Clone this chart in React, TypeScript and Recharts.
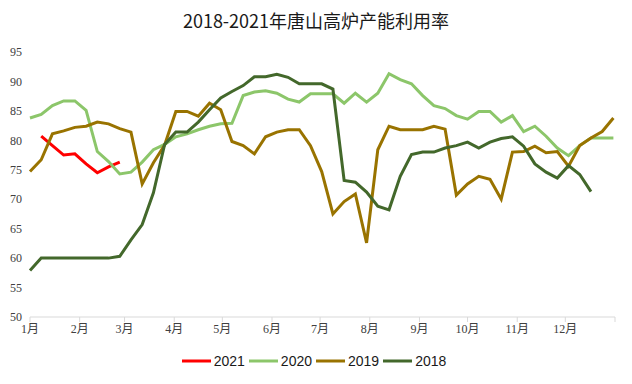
import React from 'react';
import { LineChart, Line, XAxis, YAxis, Legend } from 'recharts';

const weekDays = [
  0, 7, 14, 21, 28, 35, 42, 49, 56, 63, 70, 77, 84, 91, 98, 105, 112, 119, 126, 133,
  140, 147, 154, 161, 168, 175, 182, 189, 196, 203, 210, 217, 224, 231, 238, 245, 252, 259, 266, 273,
  280, 287, 294, 301, 308, 315, 322, 329, 336, 343, 350, 357, 364,
];

const monthStarts = [0, 31, 59, 90, 120, 151, 181, 212, 243, 273, 304, 334, 365];
const monthLabels = ['1月', '2月', '3月', '4月', '5月', '6月', '7月', '8月', '9月', '10月', '11月', '12月', ''];
const yTicks = [50, 55, 60, 65, 70, 75, 80, 85, 90, 95];

const s2021 = [
  null, 80.7, 79.1, 77.5, 77.7, 76.0, 74.5, 75.5, 76.3, null,
  null, null, null, null, null, null, null, null, null, null,
  null, null, null, null, null, null, null, null, null, null,
  null, null, null, null, null, null, null, null, null, null,
  null, null, null, null, null, null, null, null, null, null,
  null, null, null,
];

const s2020 = [
  83.8, 84.4, 85.9, 86.7, 86.7, 85.1, 78.1, 76.4, 74.3, 74.6,
  76.3, 78.4, 79.3, 80.6, 81.1, 81.8, 82.4, 82.8, 82.9, 87.6,
  88.2, 88.4, 88.0, 87.0, 86.5, 87.9, 87.9, 87.9, 86.3, 88.0,
  86.5, 88.0, 91.3, 90.3, 89.6, 87.6, 85.9, 85.4, 84.2, 83.6,
  84.9, 84.9, 83.1, 84.2, 81.5, 82.4, 80.7, 78.7, 77.4, 79.1,
  80.4, 80.4, 80.4,
];

const s2019 = [
  74.7, 76.7, 81.1, 81.6, 82.2, 82.4, 83.1, 82.8, 82.0, 81.4,
  72.6, 76.2, 79.2, 84.9, 84.9, 84.1, 86.3, 85.2, 79.8, 79.1,
  77.7, 80.6, 81.4, 81.8, 81.8, 79.1, 74.7, 67.5, 69.6, 70.9,
  62.6, 78.4, 82.4, 81.8, 81.8, 81.8, 82.4, 81.9, 70.7, 72.6,
  73.9, 73.4, 70.0, 78.0, 78.1, 79.0, 77.9, 78.1, 75.6, 79.1,
  80.4, 81.5, 83.8,
];

const s2018 = [
  57.9, 60.0, 60.0, 60.0, 60.0, 60.0, 60.0, 60.0, 60.3, 63.1,
  65.7, 71.1, 79.3, 81.4, 81.4, 83.1, 85.2, 87.2, 88.3, 89.3,
  90.8, 90.8, 91.2, 90.7, 89.6, 89.6, 89.6, 88.7, 73.2, 72.9,
  71.2, 68.8, 68.2, 73.9, 77.6, 78.0, 78.0, 78.7, 79.1, 79.7,
  78.7, 79.7, 80.3, 80.6, 79.0, 76.0, 74.6, 73.6, 75.7, 74.2,
  71.3, null, null,
];

const seriesDefs = [
  { key: 'y2021', name: '2021', color: '#FF0000' },
  { key: 'y2020', name: '2020', color: '#8CC66A' },
  { key: 'y2019', name: '2019', color: '#997300' },
  { key: 'y2018', name: '2018', color: '#43682B' },
];

const data = weekDays.map((d, i) => ({
  day: d,
  y2021: s2021[i],
  y2020: s2020[i],
  y2019: s2019[i],
  y2018: s2018[i],
}));

const axisFont = '"Liberation Serif", "Noto Sans CJK SC", serif';

const renderLegend = () => (
  <div
    style={{
      display: 'flex',
      justifyContent: 'center',
      alignItems: 'center',
      fontFamily: '"Liberation Sans", "Noto Sans", sans-serif',
      fontSize: 14,
      color: '#1a1a1a',
    }}
  >
    {seriesDefs.map((s) => (
      <div key={s.key} style={{ display: 'flex', alignItems: 'center', marginRight: 4 }}>
        <svg width={32} height={10} style={{ display: 'block' }}>
          <line x1={0} y1={5} x2={29} y2={5} stroke={s.color} strokeWidth={3} />
        </svg>
        <span>{s.name}</span>
      </div>
    ))}
  </div>
);

export default function App() {
  return (
    <div style={{ position: 'absolute', left: 0, top: 0, width: 632, height: 384, background: '#fff' }}>
      <div
        style={{
          position: 'absolute',
          left: 0,
          top: 10,
          width: 632,
          textAlign: 'center',
          fontFamily: '"Noto Sans CJK SC", sans-serif',
          fontSize: 18,
          lineHeight: '20px',
          color: '#1a1a1a',
        }}
      >
        2018-2021年唐山高炉产能利用率
      </div>
      <LineChart
        width={632}
        height={384}
        data={data}
        margin={{ top: 52, right: 17, bottom: 37, left: 0 }}
      >
        <XAxis
          dataKey="day"
          type="number"
          domain={[0, 365]}
          ticks={monthStarts}
          interval={0}
          tickFormatter={(v: number) => monthLabels[monthStarts.indexOf(v)]}
          axisLine={{ stroke: '#D9D9D9' }}
          tickLine={{ stroke: '#D9D9D9' }}
          tickSize={5}
          tick={{ fill: '#404040', fontSize: 12, fontFamily: axisFont }}
          height={30}
        />
        <YAxis
          domain={[50, 95]}
          ticks={yTicks}
          interval={0}
          axisLine={false}
          tickLine={false}
          width={30}
          tick={{ fill: '#404040', fontSize: 12, fontFamily: axisFont }}
        />
        {seriesDefs.map((s) => (
          <Line
            key={s.key}
            type="linear"
            dataKey={s.key}
            name={s.name}
            stroke={s.color}
            strokeWidth={3}
            dot={false}
            activeDot={false}
            isAnimationActive={false}
          />
        ))}
        <Legend
          verticalAlign="middle"
          align="center"
          content={renderLegend}
          wrapperStyle={{ top: 353, left: 0, width: 632 }}
        />
      </LineChart>
    </div>
  );
}
